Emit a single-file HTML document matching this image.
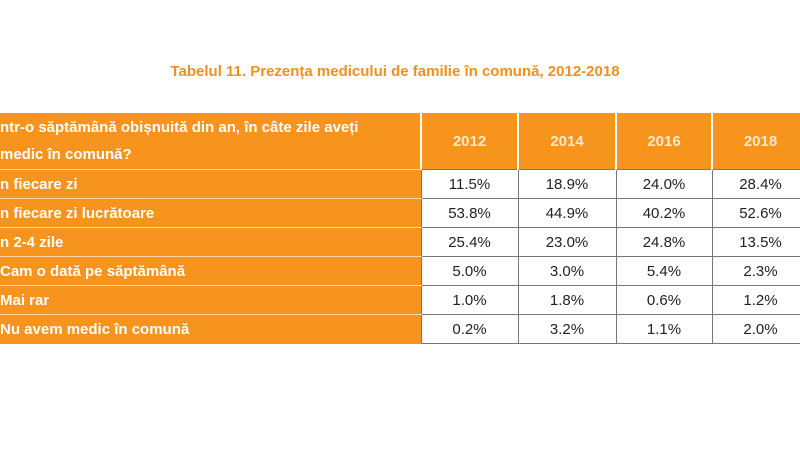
<!DOCTYPE html>
<html><head><meta charset="utf-8"><style>
body{margin:0;width:800px;height:450px;background:#fff;overflow:hidden;position:relative;font-family:"Liberation Sans","DejaVu Sans",sans-serif}
#title{position:absolute;left:0;width:790px;top:63px;text-align:center;color:#f0901e;font-weight:bold;font-size:15px}
table{position:absolute;left:0;top:113px;width:809px;border-collapse:collapse;table-layout:fixed}
td{padding:0;height:28px;font-size:15px;color:#222;text-align:center;border:1.5px solid #777;background:#fff}
td.lab{background:#f7941d;color:#fff;font-weight:bold;text-align:left;padding-left:0;border:none;border-bottom:1.5px solid #fcd9a8}
tr.hd td{height:56px;background:#f7941d;color:#fde9cc;font-weight:bold;border:none;border-right:2px solid #fff}
tr.hd td.lab{line-height:27px;color:#fff;border-bottom:1.5px solid #fcd9a8}
</style></head><body>
<div id="title">Tabelul 11. Prezența medicului de familie în comună, 2012-2018</div>
<table>
<colgroup><col style="width:421px"><col style="width:97px"><col style="width:98px"><col style="width:96px"><col style="width:97px"></colgroup>
<tr class="hd">
<td class="lab">ntr-o săptămână obișnuită din an, în câte zile aveți<br>medic în comună?</td>
<td>2012</td><td>2014</td><td>2016</td><td>2018</td></tr>
<tr><td class="lab">n fiecare zi</td><td>11.5%</td><td>18.9%</td><td>24.0%</td><td>28.4%</td></tr>
<tr><td class="lab">n fiecare zi lucrătoare</td><td>53.8%</td><td>44.9%</td><td>40.2%</td><td>52.6%</td></tr>
<tr><td class="lab">n 2-4 zile</td><td>25.4%</td><td>23.0%</td><td>24.8%</td><td>13.5%</td></tr>
<tr><td class="lab">Cam o dată pe săptămână</td><td>5.0%</td><td>3.0%</td><td>5.4%</td><td>2.3%</td></tr>
<tr><td class="lab">Mai rar</td><td>1.0%</td><td>1.8%</td><td>0.6%</td><td>1.2%</td></tr>
<tr><td class="lab" style="border-bottom:none">Nu avem medic în comună</td><td>0.2%</td><td>3.2%</td><td>1.1%</td><td>2.0%</td></tr>
</table>
</body></html>
